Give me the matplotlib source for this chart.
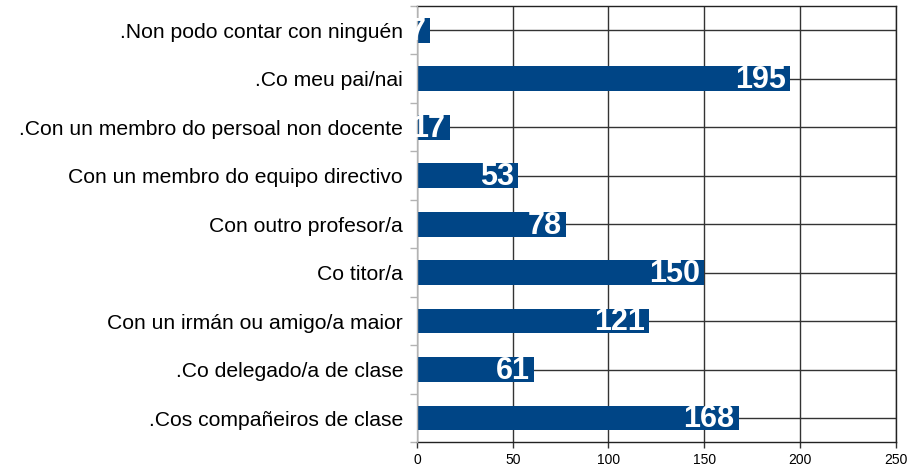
import matplotlib
matplotlib.use("Agg")
import matplotlib.pyplot as plt
import numpy as np

categories = [
    ".Cos compañeiros de clase",
    ".Co delegado/a de clase",
    "Con un irmán ou amigo/a maior",
    "Co titor/a",
    "Con outro profesor/a",
    "Con un membro do equipo directivo",
    ".Con un membro do persoal non docente",
    ".Co meu pai/nai",
    ".Non podo contar con ninguén",
]
values = [168, 61, 121, 150, 78, 53, 17, 195, 7]
xticks = [0, 50, 100, 150, 200, 250]

plt.rcParams['font.family'] = ['Liberation Sans', 'DejaVu Sans']

fig = plt.figure(figsize=(9.17, 4.67), dpi=100)
ax = fig.add_axes([417/917, (467-442.3)/467, (895.7-417)/917, (442.3-6)/467])

y = np.arange(len(categories))
ax.barh(y, values, height=0.51, color="#004586", zorder=3)

ax.set_xlim(0, 250)
ax.set_ylim(-0.5, len(categories) - 0.5)
ax.set_xticks(xticks)
ax.set_xticklabels([str(t) for t in xticks], fontsize=10)
ax.set_yticks(y)
ax.set_yticklabels(categories, fontsize=15.2)
ax.set_yticks(np.arange(-0.5, len(categories), 1.0), minor=True)

ax.tick_params(axis='y', which='major', length=0, pad=10)
ax.tick_params(axis='y', which='minor', length=5, color="#b3b3b3", width=1)
ax.tick_params(axis='x', which='major', length=4, color="#333333", width=1, pad=4)

ax.grid(True, which='major', axis='both', color="#333333", linewidth=1.0, zorder=0)
ax.set_axisbelow(True)

for side in ['top', 'right', 'bottom']:
    ax.spines[side].set_color("#222222")
    ax.spines[side].set_linewidth(1.0)
ax.spines['left'].set_color("#b3b3b3")
ax.spines['left'].set_linewidth(1.0)
ax.spines['left'].set_zorder(4)

for yi, v in zip(y, values):
    ax.annotate(str(v), xy=(v, yi), xytext=(-3, -1), textcoords='offset points',
                ha='right', va='center', color='white', fontsize=22,
                fontweight='bold', zorder=5, clip_on=False)

fig.savefig("out.png", dpi=100)
